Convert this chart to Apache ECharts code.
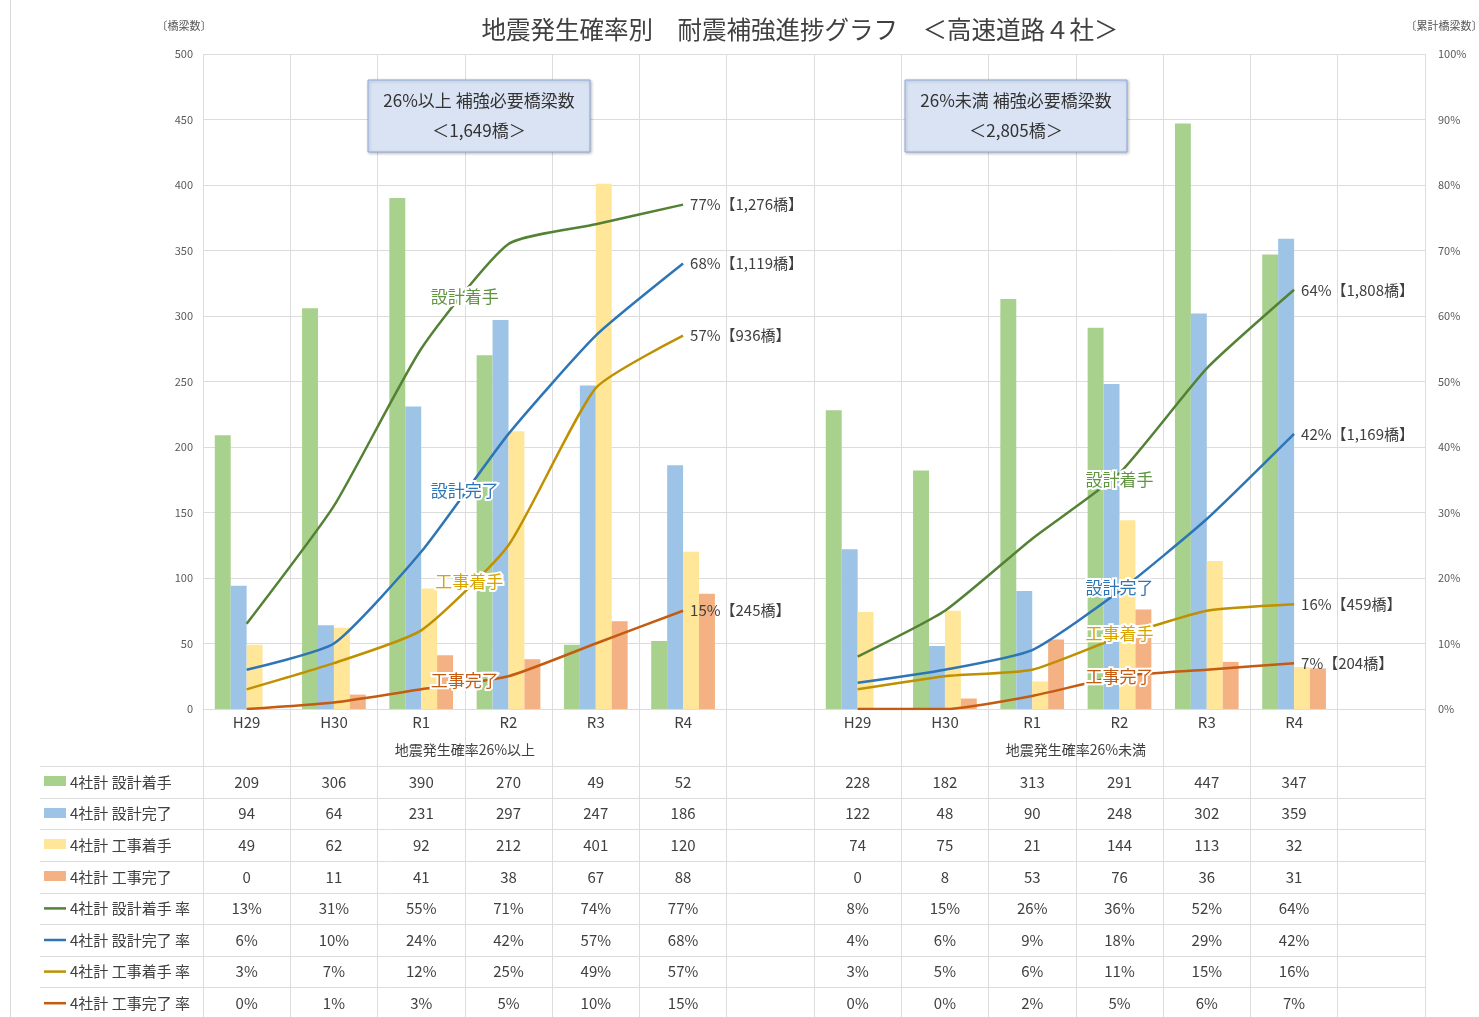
<!DOCTYPE html>
<html><head><meta charset="utf-8">
<script src="https://cdn.jsdelivr.net/npm/echarts@6/dist/echarts.min.js"></script>
<style>html,body{margin:0;padding:0;background:#fff}#c{width:1479px;height:1017px}</style>
</head><body><div id="c"></div>
<script>
// ---------- DATA ----------
const categories = ['H29','H30','R1','R2','R3','R4','','H29','H30','R1','R2','R3','R4',''];
const groupLabels = ['地震発生確率26%以上','地震発生確率26%未満'];
const barNames = ['4社計 設計着手','4社計 設計完了','4社計 工事着手','4社計 工事完了'];
const rateNames = ['4社計 設計着手 率','4社計 設計完了 率','4社計 工事着手 率','4社計 工事完了 率'];
const designStart   = [209,306,390,270,49,52,'-',228,182,313,291,447,347,'-'];
const designDone    = [94,64,231,297,247,186,'-',122,48,90,248,302,359,'-'];
const workStart     = [49,62,92,212,401,120,'-',74,75,21,144,113,32,'-'];
const workDone      = [0,11,41,38,67,88,'-',0,8,53,76,36,31,'-'];
const designStartRate = [13,31,55,71,74,77,'-',8,15,26,36,52,64,'-'];
const designDoneRate  = [6,10,24,42,57,68,'-',4,6,9,18,29,42,'-'];
const workStartRate   = [3,7,12,25,49,57,'-',3,5,6,11,15,16,'-'];
const workDoneRate    = [0,1,3,5,10,15,'-',0,0,2,5,6,7,'-'];
const endLabelsHigh = ['77%【1,276橋】','68%【1,119橋】','57%【936橋】','15%【245橋】'];
const endLabelsLow  = ['64%【1,808橋】','42%【1,169橋】','16%【459橋】','7%【204橋】'];
const lineTags = ['設計着手','設計完了','工事着手','工事完了'];
const boxTitles = ['26%以上 補強必要橋梁数','26%未満 補強必要橋梁数'];
const boxTotals = ['＜1,649橋＞','＜2,805橋＞'];
const leftTicks = [0,50,100,150,200,250,300,350,400,450,500];
const rightTicks = [0,10,20,30,40,50,60,70,80,90,100];

// ---------- STYLE ----------
const FONT = '"Noto Sans CJK JP","Noto Sans",sans-serif';
const barColors = ['#a9d18e','#9dc3e6','#ffe699','#f4b183'];
const lineColors = ['#548235','#2e75b6','#bf9000','#c55a11'];
const tagColors = ['#5f9440','#2e75b6','#d9a400','#c55a11'];
const textCol = '#404040';
const gridCol = '#dcdcdc';

const bars = [designStart, designDone, workStart, workDone];
const rates = [designStartRate, designDoneRate, workStartRate, workDoneRate];
const endIdxHigh = 5, endIdxLow = 12;

const series = [];
bars.forEach((d, i) => series.push({
  name: barNames[i], type: 'bar', data: d, barGap: '0%', barCategoryGap: '27%',
  itemStyle: {color: barColors[i]}, xAxisIndex: 0, yAxisIndex: 0, z: 2
}));
rates.forEach((d, i) => series.push({
  name: rateNames[i], type: 'line', xAxisIndex: 0, yAxisIndex: 1, smooth: 0.18,
  symbol: 'none', lineStyle: {color: lineColors[i], width: 2.5}, itemStyle: {color: lineColors[i]}, z: 5,
  data: d.map((v, k) => {
    if (k === endIdxHigh || k === endIdxLow) {
      return {value: v, symbol: 'circle', symbolSize: 2, itemStyle: {color: 'rgba(0,0,0,0)'},
        label: {show: true, position: 'right', distance: 6, fontSize: 15, color: textCol, fontFamily: FONT,
          formatter: k === endIdxHigh ? endLabelsHigh[i] : endLabelsLow[i]}};
    }
    return v;
  })
}));

// table row axes
const tableRows = [];
bars.forEach(d => tableRows.push(d.map(v => v === '-' ? '' : String(v))));
rates.forEach(d => tableRows.push(d.map(v => v === '-' ? '' : v + '%')));

const groupAxisData = [];
for (let i = 0; i <= categories.length; i++) groupAxisData.push('');
groupAxisData[3] = groupLabels[0];
groupAxisData[10] = groupLabels[1];

const ROW0 = 782, ROWH = 31.6, AXY = 709;
const xAxes = [{
  type: 'category', data: categories, gridIndex: 0, position: 'bottom',
  axisLine: {lineStyle: {color: gridCol}},
  axisTick: {show: true, interval: 0, length: 310, lineStyle: {color: gridCol}},
  axisLabel: {interval: 0, fontSize: 15, lineHeight: 15, margin: 6, color: textCol, fontFamily: FONT},
  splitLine: {show: true, interval: 0, lineStyle: {color: gridCol}}
}, {
  type: 'category', data: groupAxisData, boundaryGap: false, gridIndex: 0, position: 'bottom', offset: 34,
  axisLine: {show: false}, axisTick: {show: false}, splitLine: {show: false},
  axisLabel: {interval: 0, fontSize: 14, lineHeight: 14, margin: 0, color: textCol, fontFamily: FONT}
}];
tableRows.forEach((row, k) => xAxes.push({
  type: 'category', data: row, gridIndex: 0, position: 'bottom',
  offset: ROW0 + ROWH * k - 7.5 - AXY,
  axisLine: {show: false}, axisTick: {show: false}, splitLine: {show: false},
  axisLabel: {interval: 0, fontSize: 15, lineHeight: 15, margin: 0, color: textCol, fontFamily: FONT}
}));

const option = {
  backgroundColor: '#fff',
  animation: false,
  textStyle: {fontFamily: FONT},
  title: {
    text: '地震発生確率別　耐震補強進捗グラフ　＜高速道路４社＞',
    left: 795, top: 12, textAlign: 'center',
    textStyle: {fontSize: 24.5, fontWeight: 'normal', color: '#404040', fontFamily: FONT}
  },
  grid: {left: 203, right: 54, top: 54, bottom: 308, containLabel: false},
  xAxis: xAxes,
  yAxis: [{
    type: 'value', min: leftTicks[0], max: leftTicks[leftTicks.length - 1], interval: leftTicks[1] - leftTicks[0],
    axisLine: {show: false}, axisTick: {show: false},
    axisLabel: {fontSize: 11, color: '#595959', margin: 10},
    splitLine: {lineStyle: {color: gridCol}}
  }, {
    type: 'value', min: rightTicks[0], max: rightTicks[rightTicks.length - 1], interval: rightTicks[1] - rightTicks[0],
    axisLine: {show: false}, axisTick: {show: false},
    axisLabel: {fontSize: 11, color: '#595959', margin: 13, formatter: '{value}%'},
    splitLine: {show: false}
  }],
  series: series
};

const chart = echarts.init(document.getElementById('c'), null, {renderer: 'canvas'});
chart.setOption(option);

// ---------- annotations ----------
const xAt = i => chart.convertToPixel({xAxisIndex: 0}, i);
const band = xAt(1) - xAt(0);
const xFrac = f => xAt(Math.floor(f)) + (f - Math.floor(f)) * band;
const yR = v => chart.convertToPixel({yAxisIndex: 1}, v);
const gridRight = xAt(categories.length - 1) + band / 2;

const graphics = [];
graphics.push({type: 'line', shape: {x1: 10.5, y1: 0, x2: 10.5, y2: 1017}, style: {stroke: '#d9d9d9', lineWidth: 1}, silent: true});
graphics.push({type: 'text', x: 184, y: 26, style: {text: '〔橋梁数〕', fontSize: 11, fill: '#595959', align: 'center', verticalAlign: 'middle', fontFamily: FONT}});
graphics.push({type: 'text', x: 1444, y: 26, style: {text: '〔累計橋梁数〕', fontSize: 11, fill: '#595959', align: 'center', verticalAlign: 'middle', fontFamily: FONT}});
// table horizontal lines
for (let j = 0; j < 8; j++) {
  const y = Math.round(ROW0 - ROWH / 2 + ROWH * j) + 0.5;
  graphics.push({type: 'line', shape: {x1: 40, y1: y, x2: gridRight, y2: y}, style: {stroke: gridCol, lineWidth: 1}, silent: true});
}
// legend keys in the table's first column
const legendNames = barNames.concat(rateNames);
legendNames.forEach((n, k) => {
  const cy = ROW0 + ROWH * k;
  if (k < 4) {
    graphics.push({type: 'rect', shape: {x: 44, y: Math.round(cy - 6), width: 22, height: 10}, style: {fill: barColors[k]}});
  } else {
    graphics.push({type: 'line', shape: {x1: 44, y1: cy, x2: 66, y2: cy}, style: {stroke: lineColors[k - 4], lineWidth: 2.5}});
  }
  graphics.push({type: 'text', x: 70, y: cy, style: {text: n, fontSize: 15, fill: textCol, align: 'left', verticalAlign: 'middle', fontFamily: FONT}});
});
// info boxes
const boxCenters = [2.66, 8.81];
boxCenters.forEach((c, i) => {
  const cx = Math.round(xFrac(c));
  graphics.push({type: 'rect', shape: {x: cx - 111, y: 80, width: 222, height: 72},
    style: {fill: '#dae3f3', stroke: '#8eaadb', lineWidth: 1, shadowBlur: 3, shadowColor: 'rgba(0,0,0,0.25)', shadowOffsetX: 1, shadowOffsetY: 1}, z: 20});
  graphics.push({type: 'text', x: cx, y: 101, z: 21, style: {text: boxTitles[i], fontSize: 17, fill: '#333', align: 'center', verticalAlign: 'middle', fontFamily: FONT}});
  graphics.push({type: 'text', x: cx, y: 131, z: 21, style: {text: boxTotals[i], fontSize: 17, fill: '#333', align: 'center', verticalAlign: 'middle', fontFamily: FONT}});
});
// inline line tags, anchored in data coordinates [category index, rate %]
const tagPos = [
  [[2.5, 63.0], [10, 35.1]],
  [[2.5, 33.3], [10, 18.5]],
  [[2.55, 19.5], [10, 11.5]],
  [[2.5, 4.4], [10, 4.9]]
];
tagPos.forEach((pair, i) => pair.forEach(p => {
  graphics.push({type: 'text', x: xFrac(p[0]), y: yR(p[1]), z: 30,
    style: {text: lineTags[i], fontSize: 17, fill: tagColors[i], align: 'center', verticalAlign: 'middle',
      stroke: '#fff', lineWidth: 4, fontFamily: FONT}});
}));
chart.setOption({graphic: graphics});
</script></body></html>
